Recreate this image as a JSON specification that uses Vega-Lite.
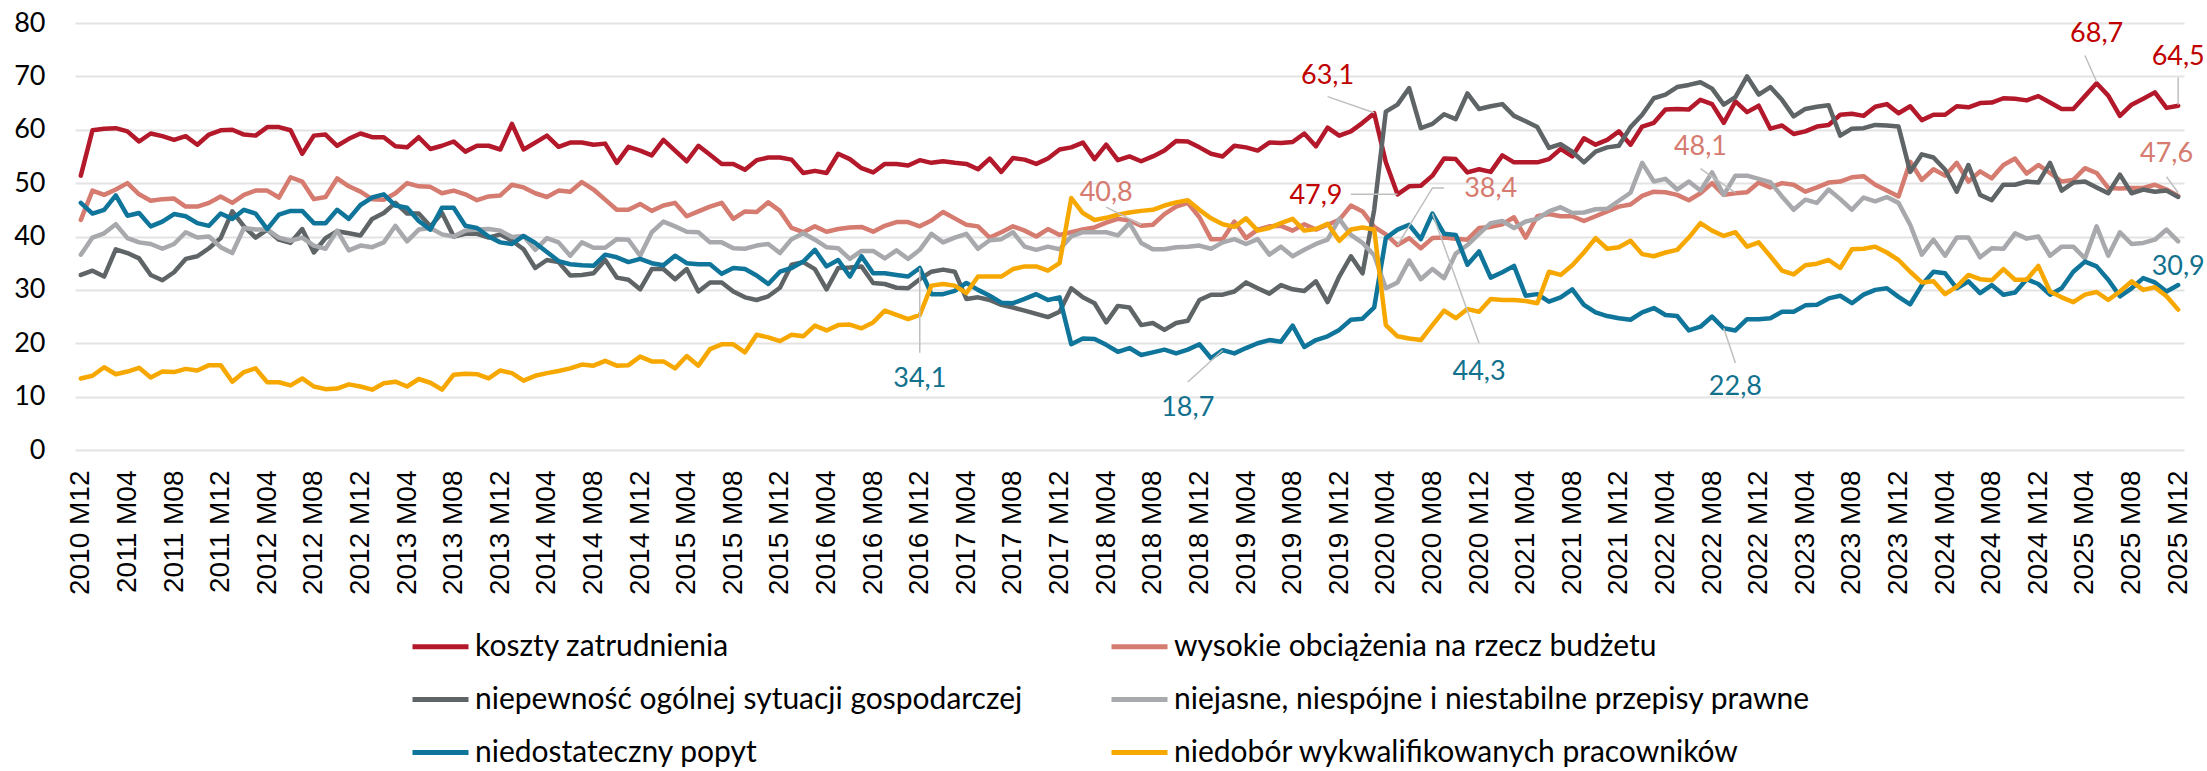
{
"$schema":"https://vega.github.io/schema/vega-lite/v6.json",
"width":2109,"height":427,
"autosize":{"type":"none"},
"padding":{"left":75,"top":23,"right":23,"bottom":321},
"background":"white",
"config":{"view":{"stroke":null},"font":"Lato"},
"datasets":{
"serie":[
{"s":"A","nazwa":"koszty zatrudnienia"},
{"s":"B","nazwa":"wysokie obciążenia na rzecz budżetu"},
{"s":"C","nazwa":"niepewność ogólnej sytuacji gospodarczej"},
{"s":"D","nazwa":"niejasne, niespójne i niestabilne przepisy prawne"},
{"s":"E","nazwa":"niedostateczny popyt"},
{"s":"F","nazwa":"niedobór wykwalifikowanych pracowników"}
],
"dane":[
{"m":"2010 M12","s":"A","v":51.4},
{"m":"2011 M01","s":"A","v":59.9},{"m":"2011 M02","s":"A","v":60.2},{"m":"2011 M03","s":"A","v":60.3},{"m":"2011 M04","s":"A","v":59.7},{"m":"2011 M05","s":"A","v":57.8},{"m":"2011 M06","s":"A","v":59.3},{"m":"2011 M07","s":"A","v":58.8},{"m":"2011 M08","s":"A","v":58.1},{"m":"2011 M09","s":"A","v":58.8},{"m":"2011 M10","s":"A","v":57.2},{"m":"2011 M11","s":"A","v":59.1},{"m":"2011 M12","s":"A","v":59.9},
{"m":"2012 M01","s":"A","v":60},{"m":"2012 M02","s":"A","v":59.1},{"m":"2012 M03","s":"A","v":58.9},{"m":"2012 M04","s":"A","v":60.5},{"m":"2012 M05","s":"A","v":60.5},{"m":"2012 M06","s":"A","v":59.9},{"m":"2012 M07","s":"A","v":55.5},{"m":"2012 M08","s":"A","v":58.9},{"m":"2012 M09","s":"A","v":59.1},{"m":"2012 M10","s":"A","v":57},{"m":"2012 M11","s":"A","v":58.3},{"m":"2012 M12","s":"A","v":59.3},
{"m":"2013 M01","s":"A","v":58.6},{"m":"2013 M02","s":"A","v":58.6},{"m":"2013 M03","s":"A","v":56.9},{"m":"2013 M04","s":"A","v":56.7},{"m":"2013 M05","s":"A","v":58.6},{"m":"2013 M06","s":"A","v":56.4},{"m":"2013 M07","s":"A","v":57},{"m":"2013 M08","s":"A","v":57.8},{"m":"2013 M09","s":"A","v":55.9},{"m":"2013 M10","s":"A","v":57},{"m":"2013 M11","s":"A","v":57},{"m":"2013 M12","s":"A","v":56.3},
{"m":"2014 M01","s":"A","v":61.1},{"m":"2014 M02","s":"A","v":56.3},{"m":"2014 M03","s":"A","v":57.6},{"m":"2014 M04","s":"A","v":58.9},{"m":"2014 M05","s":"A","v":56.8},{"m":"2014 M06","s":"A","v":57.6},{"m":"2014 M07","s":"A","v":57.6},{"m":"2014 M08","s":"A","v":57.2},{"m":"2014 M09","s":"A","v":57.4},{"m":"2014 M10","s":"A","v":53.8},{"m":"2014 M11","s":"A","v":56.8},{"m":"2014 M12","s":"A","v":56.1},
{"m":"2015 M01","s":"A","v":55.2},{"m":"2015 M02","s":"A","v":58.1},{"m":"2015 M03","s":"A","v":56.1},{"m":"2015 M04","s":"A","v":54.1},{"m":"2015 M05","s":"A","v":57},{"m":"2015 M06","s":"A","v":55.3},{"m":"2015 M07","s":"A","v":53.6},{"m":"2015 M08","s":"A","v":53.6},{"m":"2015 M09","s":"A","v":52.5},{"m":"2015 M10","s":"A","v":54.3},{"m":"2015 M11","s":"A","v":54.8},{"m":"2015 M12","s":"A","v":54.8},
{"m":"2016 M01","s":"A","v":54.4},{"m":"2016 M02","s":"A","v":51.9},{"m":"2016 M03","s":"A","v":52.3},{"m":"2016 M04","s":"A","v":51.9},{"m":"2016 M05","s":"A","v":55.5},{"m":"2016 M06","s":"A","v":54.5},{"m":"2016 M07","s":"A","v":52.8},{"m":"2016 M08","s":"A","v":52},{"m":"2016 M09","s":"A","v":53.6},{"m":"2016 M10","s":"A","v":53.6},{"m":"2016 M11","s":"A","v":53.3},{"m":"2016 M12","s":"A","v":54.3},
{"m":"2017 M01","s":"A","v":53.8},{"m":"2017 M02","s":"A","v":54.1},{"m":"2017 M03","s":"A","v":53.8},{"m":"2017 M04","s":"A","v":53.6},{"m":"2017 M05","s":"A","v":52.6},{"m":"2017 M06","s":"A","v":54.6},{"m":"2017 M07","s":"A","v":52.1},{"m":"2017 M08","s":"A","v":54.7},{"m":"2017 M09","s":"A","v":54.4},{"m":"2017 M10","s":"A","v":53.6},{"m":"2017 M11","s":"A","v":54.6},{"m":"2017 M12","s":"A","v":56.3},
{"m":"2018 M01","s":"A","v":56.7},{"m":"2018 M02","s":"A","v":57.6},{"m":"2018 M03","s":"A","v":54.5},{"m":"2018 M04","s":"A","v":57.2},{"m":"2018 M05","s":"A","v":54.3},{"m":"2018 M06","s":"A","v":55},{"m":"2018 M07","s":"A","v":54.1},{"m":"2018 M08","s":"A","v":55},{"m":"2018 M09","s":"A","v":56.1},{"m":"2018 M10","s":"A","v":57.9},{"m":"2018 M11","s":"A","v":57.8},{"m":"2018 M12","s":"A","v":56.7},
{"m":"2019 M01","s":"A","v":55.5},{"m":"2019 M02","s":"A","v":55},{"m":"2019 M03","s":"A","v":57},{"m":"2019 M04","s":"A","v":56.7},{"m":"2019 M05","s":"A","v":56.1},{"m":"2019 M06","s":"A","v":57.6},{"m":"2019 M07","s":"A","v":57.5},{"m":"2019 M08","s":"A","v":57.7},{"m":"2019 M09","s":"A","v":59.3},{"m":"2019 M10","s":"A","v":56.9},{"m":"2019 M11","s":"A","v":60.4},{"m":"2019 M12","s":"A","v":58.9},
{"m":"2020 M01","s":"A","v":59.7},{"m":"2020 M02","s":"A","v":61.3},{"m":"2020 M03","s":"A","v":63.1},{"m":"2020 M04","s":"A","v":53.9},{"m":"2020 M05","s":"A","v":47.9},{"m":"2020 M06","s":"A","v":49.4},{"m":"2020 M07","s":"A","v":49.5},{"m":"2020 M08","s":"A","v":51.4},{"m":"2020 M09","s":"A","v":54.6},{"m":"2020 M10","s":"A","v":54.5},{"m":"2020 M11","s":"A","v":52},{"m":"2020 M12","s":"A","v":52.6},
{"m":"2021 M01","s":"A","v":52.1},{"m":"2021 M02","s":"A","v":55.2},{"m":"2021 M03","s":"A","v":53.9},{"m":"2021 M04","s":"A","v":53.9},{"m":"2021 M05","s":"A","v":53.9},{"m":"2021 M06","s":"A","v":54.5},{"m":"2021 M07","s":"A","v":56.4},{"m":"2021 M08","s":"A","v":55},{"m":"2021 M09","s":"A","v":58.4},{"m":"2021 M10","s":"A","v":57.2},{"m":"2021 M11","s":"A","v":58.1},{"m":"2021 M12","s":"A","v":59.7},
{"m":"2022 M01","s":"A","v":57.2},{"m":"2022 M02","s":"A","v":60.6},{"m":"2022 M03","s":"A","v":61.3},{"m":"2022 M04","s":"A","v":63.8},{"m":"2022 M05","s":"A","v":63.9},{"m":"2022 M06","s":"A","v":63.8},{"m":"2022 M07","s":"A","v":65.6},{"m":"2022 M08","s":"A","v":64.8},{"m":"2022 M09","s":"A","v":61.3},{"m":"2022 M10","s":"A","v":65.3},{"m":"2022 M11","s":"A","v":63.3},{"m":"2022 M12","s":"A","v":64.5},
{"m":"2023 M01","s":"A","v":60.2},{"m":"2023 M02","s":"A","v":60.8},{"m":"2023 M03","s":"A","v":59.2},{"m":"2023 M04","s":"A","v":59.7},{"m":"2023 M05","s":"A","v":60.6},{"m":"2023 M06","s":"A","v":60.9},{"m":"2023 M07","s":"A","v":62.8},{"m":"2023 M08","s":"A","v":63},{"m":"2023 M09","s":"A","v":62.6},{"m":"2023 M10","s":"A","v":64.3},{"m":"2023 M11","s":"A","v":64.8},{"m":"2023 M12","s":"A","v":63.1},
{"m":"2024 M01","s":"A","v":64.4},{"m":"2024 M02","s":"A","v":61.8},{"m":"2024 M03","s":"A","v":62.8},{"m":"2024 M04","s":"A","v":62.8},{"m":"2024 M05","s":"A","v":64.4},{"m":"2024 M06","s":"A","v":64.2},{"m":"2024 M07","s":"A","v":65},{"m":"2024 M08","s":"A","v":65.1},{"m":"2024 M09","s":"A","v":65.9},{"m":"2024 M10","s":"A","v":65.8},{"m":"2024 M11","s":"A","v":65.5},{"m":"2024 M12","s":"A","v":66.3},
{"m":"2025 M01","s":"A","v":65.1},{"m":"2025 M02","s":"A","v":63.9},{"m":"2025 M03","s":"A","v":63.9},{"m":"2025 M04","s":"A","v":66.3},{"m":"2025 M05","s":"A","v":68.7},{"m":"2025 M06","s":"A","v":66.4},{"m":"2025 M07","s":"A","v":62.6},{"m":"2025 M08","s":"A","v":64.7},{"m":"2025 M09","s":"A","v":65.8},{"m":"2025 M10","s":"A","v":67},{"m":"2025 M11","s":"A","v":64.1},{"m":"2025 M12","s":"A","v":64.5},
{"m":"2010 M12","s":"B","v":43.1},
{"m":"2011 M01","s":"B","v":48.6},{"m":"2011 M02","s":"B","v":47.8},{"m":"2011 M03","s":"B","v":48.8},{"m":"2011 M04","s":"B","v":50},{"m":"2011 M05","s":"B","v":47.9},{"m":"2011 M06","s":"B","v":46.7},{"m":"2011 M07","s":"B","v":47},{"m":"2011 M08","s":"B","v":47.1},{"m":"2011 M09","s":"B","v":45.6},{"m":"2011 M10","s":"B","v":45.6},{"m":"2011 M11","s":"B","v":46.3},{"m":"2011 M12","s":"B","v":47.5},
{"m":"2012 M01","s":"B","v":46.3},{"m":"2012 M02","s":"B","v":47.8},{"m":"2012 M03","s":"B","v":48.6},{"m":"2012 M04","s":"B","v":48.6},{"m":"2012 M05","s":"B","v":47.3},{"m":"2012 M06","s":"B","v":51.1},{"m":"2012 M07","s":"B","v":50.3},{"m":"2012 M08","s":"B","v":47},{"m":"2012 M09","s":"B","v":47.4},{"m":"2012 M10","s":"B","v":50.9},{"m":"2012 M11","s":"B","v":49.4},{"m":"2012 M12","s":"B","v":48.4},
{"m":"2013 M01","s":"B","v":47},{"m":"2013 M02","s":"B","v":46.9},{"m":"2013 M03","s":"B","v":48.1},{"m":"2013 M04","s":"B","v":50},{"m":"2013 M05","s":"B","v":49.4},{"m":"2013 M06","s":"B","v":49.3},{"m":"2013 M07","s":"B","v":48.1},{"m":"2013 M08","s":"B","v":48.6},{"m":"2013 M09","s":"B","v":47.9},{"m":"2013 M10","s":"B","v":46.8},{"m":"2013 M11","s":"B","v":47.5},{"m":"2013 M12","s":"B","v":47.7},
{"m":"2014 M01","s":"B","v":49.7},{"m":"2014 M02","s":"B","v":49.2},{"m":"2014 M03","s":"B","v":48.1},{"m":"2014 M04","s":"B","v":47.4},{"m":"2014 M05","s":"B","v":48.6},{"m":"2014 M06","s":"B","v":48.4},{"m":"2014 M07","s":"B","v":50.2},{"m":"2014 M08","s":"B","v":48.8},{"m":"2014 M09","s":"B","v":46.9},{"m":"2014 M10","s":"B","v":45},{"m":"2014 M11","s":"B","v":45},{"m":"2014 M12","s":"B","v":46.1},
{"m":"2015 M01","s":"B","v":44.8},{"m":"2015 M02","s":"B","v":45.8},{"m":"2015 M03","s":"B","v":46.3},{"m":"2015 M04","s":"B","v":43.8},{"m":"2015 M05","s":"B","v":44.7},{"m":"2015 M06","s":"B","v":45.6},{"m":"2015 M07","s":"B","v":46.3},{"m":"2015 M08","s":"B","v":43.3},{"m":"2015 M09","s":"B","v":44.7},{"m":"2015 M10","s":"B","v":44.6},{"m":"2015 M11","s":"B","v":46.4},{"m":"2015 M12","s":"B","v":44.8},
{"m":"2016 M01","s":"B","v":41.6},{"m":"2016 M02","s":"B","v":40.8},{"m":"2016 M03","s":"B","v":41.9},{"m":"2016 M04","s":"B","v":40.9},{"m":"2016 M05","s":"B","v":41.4},{"m":"2016 M06","s":"B","v":41.7},{"m":"2016 M07","s":"B","v":41.8},{"m":"2016 M08","s":"B","v":40.9},{"m":"2016 M09","s":"B","v":42},{"m":"2016 M10","s":"B","v":42.7},{"m":"2016 M11","s":"B","v":42.7},{"m":"2016 M12","s":"B","v":41.9},
{"m":"2017 M01","s":"B","v":43},{"m":"2017 M02","s":"B","v":44.6},{"m":"2017 M03","s":"B","v":43.4},{"m":"2017 M04","s":"B","v":42.2},{"m":"2017 M05","s":"B","v":41.9},{"m":"2017 M06","s":"B","v":39.8},{"m":"2017 M07","s":"B","v":40.8},{"m":"2017 M08","s":"B","v":41.9},{"m":"2017 M09","s":"B","v":41.1},{"m":"2017 M10","s":"B","v":40},{"m":"2017 M11","s":"B","v":41.4},{"m":"2017 M12","s":"B","v":40.3},
{"m":"2018 M01","s":"B","v":40.8},{"m":"2018 M02","s":"B","v":41.3},{"m":"2018 M03","s":"B","v":41.7},{"m":"2018 M04","s":"B","v":42.6},{"m":"2018 M05","s":"B","v":43.3},{"m":"2018 M06","s":"B","v":43},{"m":"2018 M07","s":"B","v":42},{"m":"2018 M08","s":"B","v":42.2},{"m":"2018 M09","s":"B","v":44.2},{"m":"2018 M10","s":"B","v":45.6},{"m":"2018 M11","s":"B","v":46.3},{"m":"2018 M12","s":"B","v":43.6},
{"m":"2019 M01","s":"B","v":39.5},{"m":"2019 M02","s":"B","v":39.5},{"m":"2019 M03","s":"B","v":42.8},{"m":"2019 M04","s":"B","v":39.7},{"m":"2019 M05","s":"B","v":41.3},{"m":"2019 M06","s":"B","v":41.9},{"m":"2019 M07","s":"B","v":42},{"m":"2019 M08","s":"B","v":41.1},{"m":"2019 M09","s":"B","v":42.3},{"m":"2019 M10","s":"B","v":41.3},{"m":"2019 M11","s":"B","v":42.2},{"m":"2019 M12","s":"B","v":43.1},
{"m":"2020 M01","s":"B","v":45.8},{"m":"2020 M02","s":"B","v":44.7},{"m":"2020 M03","s":"B","v":41.8},{"m":"2020 M04","s":"B","v":40.4},{"m":"2020 M05","s":"B","v":38.4},{"m":"2020 M06","s":"B","v":39.7},{"m":"2020 M07","s":"B","v":37.8},{"m":"2020 M08","s":"B","v":39.7},{"m":"2020 M09","s":"B","v":39.8},{"m":"2020 M10","s":"B","v":39.6},{"m":"2020 M11","s":"B","v":39.4},{"m":"2020 M12","s":"B","v":41.6},
{"m":"2021 M01","s":"B","v":41.8},{"m":"2021 M02","s":"B","v":42.3},{"m":"2021 M03","s":"B","v":43.6},{"m":"2021 M04","s":"B","v":39.8},{"m":"2021 M05","s":"B","v":43.8},{"m":"2021 M06","s":"B","v":44.2},{"m":"2021 M07","s":"B","v":43.8},{"m":"2021 M08","s":"B","v":43.8},{"m":"2021 M09","s":"B","v":42.9},{"m":"2021 M10","s":"B","v":43.8},{"m":"2021 M11","s":"B","v":44.7},{"m":"2021 M12","s":"B","v":45.6},
{"m":"2022 M01","s":"B","v":46},{"m":"2022 M02","s":"B","v":47.6},{"m":"2022 M03","s":"B","v":48.4},{"m":"2022 M04","s":"B","v":48.3},{"m":"2022 M05","s":"B","v":47.8},{"m":"2022 M06","s":"B","v":46.8},{"m":"2022 M07","s":"B","v":48.1},{"m":"2022 M08","s":"B","v":50},{"m":"2022 M09","s":"B","v":47.8},{"m":"2022 M10","s":"B","v":48.1},{"m":"2022 M11","s":"B","v":48.3},{"m":"2022 M12","s":"B","v":50.1},
{"m":"2023 M01","s":"B","v":49.2},{"m":"2023 M02","s":"B","v":50},{"m":"2023 M03","s":"B","v":49.7},{"m":"2023 M04","s":"B","v":48.4},{"m":"2023 M05","s":"B","v":49.2},{"m":"2023 M06","s":"B","v":50.1},{"m":"2023 M07","s":"B","v":50.3},{"m":"2023 M08","s":"B","v":51.1},{"m":"2023 M09","s":"B","v":51.3},{"m":"2023 M10","s":"B","v":49.7},{"m":"2023 M11","s":"B","v":48.6},{"m":"2023 M12","s":"B","v":47.5},
{"m":"2024 M01","s":"B","v":54},{"m":"2024 M02","s":"B","v":50.6},{"m":"2024 M03","s":"B","v":52.6},{"m":"2024 M04","s":"B","v":51.4},{"m":"2024 M05","s":"B","v":53.8},{"m":"2024 M06","s":"B","v":50.3},{"m":"2024 M07","s":"B","v":52.2},{"m":"2024 M08","s":"B","v":50.9},{"m":"2024 M09","s":"B","v":53.4},{"m":"2024 M10","s":"B","v":54.6},{"m":"2024 M11","s":"B","v":51.8},{"m":"2024 M12","s":"B","v":53.4},
{"m":"2025 M01","s":"B","v":51.9},{"m":"2025 M02","s":"B","v":50.3},{"m":"2025 M03","s":"B","v":50.6},{"m":"2025 M04","s":"B","v":52.8},{"m":"2025 M05","s":"B","v":51.9},{"m":"2025 M06","s":"B","v":49.1},{"m":"2025 M07","s":"B","v":49},{"m":"2025 M08","s":"B","v":49.1},{"m":"2025 M09","s":"B","v":49.1},{"m":"2025 M10","s":"B","v":49.7},{"m":"2025 M11","s":"B","v":48.8},{"m":"2025 M12","s":"B","v":47.6},
{"m":"2010 M12","s":"C","v":32.8},
{"m":"2011 M01","s":"C","v":33.6},{"m":"2011 M02","s":"C","v":32.5},{"m":"2011 M03","s":"C","v":37.6},{"m":"2011 M04","s":"C","v":36.9},{"m":"2011 M05","s":"C","v":35.9},{"m":"2011 M06","s":"C","v":32.8},{"m":"2011 M07","s":"C","v":31.8},{"m":"2011 M08","s":"C","v":33.3},{"m":"2011 M09","s":"C","v":35.8},{"m":"2011 M10","s":"C","v":36.3},{"m":"2011 M11","s":"C","v":37.8},{"m":"2011 M12","s":"C","v":39.7},
{"m":"2012 M01","s":"C","v":44.7},{"m":"2012 M02","s":"C","v":41.9},{"m":"2012 M03","s":"C","v":39.8},{"m":"2012 M04","s":"C","v":41.3},{"m":"2012 M05","s":"C","v":39.4},{"m":"2012 M06","s":"C","v":38.8},{"m":"2012 M07","s":"C","v":41.4},{"m":"2012 M08","s":"C","v":37},{"m":"2012 M09","s":"C","v":39.7},{"m":"2012 M10","s":"C","v":41},{"m":"2012 M11","s":"C","v":40.6},{"m":"2012 M12","s":"C","v":40.2},
{"m":"2013 M01","s":"C","v":43.3},{"m":"2013 M02","s":"C","v":44.4},{"m":"2013 M03","s":"C","v":46.3},{"m":"2013 M04","s":"C","v":44.3},{"m":"2013 M05","s":"C","v":44.3},{"m":"2013 M06","s":"C","v":41.9},{"m":"2013 M07","s":"C","v":44.4},{"m":"2013 M08","s":"C","v":40},{"m":"2013 M09","s":"C","v":40.5},{"m":"2013 M10","s":"C","v":40.5},{"m":"2013 M11","s":"C","v":39.8},{"m":"2013 M12","s":"C","v":40.4},
{"m":"2014 M01","s":"C","v":39.2},{"m":"2014 M02","s":"C","v":37.6},{"m":"2014 M03","s":"C","v":34.1},{"m":"2014 M04","s":"C","v":35.6},{"m":"2014 M05","s":"C","v":35.2},{"m":"2014 M06","s":"C","v":32.7},{"m":"2014 M07","s":"C","v":32.8},{"m":"2014 M08","s":"C","v":33.1},{"m":"2014 M09","s":"C","v":35.6},{"m":"2014 M10","s":"C","v":32.3},{"m":"2014 M11","s":"C","v":31.9},{"m":"2014 M12","s":"C","v":30.1},
{"m":"2015 M01","s":"C","v":33.9},{"m":"2015 M02","s":"C","v":33.9},{"m":"2015 M03","s":"C","v":32},{"m":"2015 M04","s":"C","v":33.9},{"m":"2015 M05","s":"C","v":29.7},{"m":"2015 M06","s":"C","v":31.4},{"m":"2015 M07","s":"C","v":31.4},{"m":"2015 M08","s":"C","v":29.7},{"m":"2015 M09","s":"C","v":28.6},{"m":"2015 M10","s":"C","v":28.1},{"m":"2015 M11","s":"C","v":28.8},{"m":"2015 M12","s":"C","v":30.4},
{"m":"2016 M01","s":"C","v":34.7},{"m":"2016 M02","s":"C","v":35.2},{"m":"2016 M03","s":"C","v":33.9},{"m":"2016 M04","s":"C","v":30.1},{"m":"2016 M05","s":"C","v":34.1},{"m":"2016 M06","s":"C","v":34.2},{"m":"2016 M07","s":"C","v":34.4},{"m":"2016 M08","s":"C","v":31.3},{"m":"2016 M09","s":"C","v":31.1},{"m":"2016 M10","s":"C","v":30.4},{"m":"2016 M11","s":"C","v":30.3},{"m":"2016 M12","s":"C","v":32},
{"m":"2017 M01","s":"C","v":33.4},{"m":"2017 M02","s":"C","v":33.8},{"m":"2017 M03","s":"C","v":33.4},{"m":"2017 M04","s":"C","v":28.3},{"m":"2017 M05","s":"C","v":28.6},{"m":"2017 M06","s":"C","v":28.1},{"m":"2017 M07","s":"C","v":27.2},{"m":"2017 M08","s":"C","v":26.7},{"m":"2017 M09","s":"C","v":26.1},{"m":"2017 M10","s":"C","v":25.5},{"m":"2017 M11","s":"C","v":24.9},{"m":"2017 M12","s":"C","v":25.9},
{"m":"2018 M01","s":"C","v":30.3},{"m":"2018 M02","s":"C","v":28.6},{"m":"2018 M03","s":"C","v":27.5},{"m":"2018 M04","s":"C","v":23.9},{"m":"2018 M05","s":"C","v":27},{"m":"2018 M06","s":"C","v":26.7},{"m":"2018 M07","s":"C","v":23.4},{"m":"2018 M08","s":"C","v":23.8},{"m":"2018 M09","s":"C","v":22.5},{"m":"2018 M10","s":"C","v":23.8},{"m":"2018 M11","s":"C","v":24.2},{"m":"2018 M12","s":"C","v":28.1},
{"m":"2019 M01","s":"C","v":29.1},{"m":"2019 M02","s":"C","v":29.1},{"m":"2019 M03","s":"C","v":29.7},{"m":"2019 M04","s":"C","v":31.4},{"m":"2019 M05","s":"C","v":30.3},{"m":"2019 M06","s":"C","v":29.3},{"m":"2019 M07","s":"C","v":30.9},{"m":"2019 M08","s":"C","v":30.1},{"m":"2019 M09","s":"C","v":29.8},{"m":"2019 M10","s":"C","v":31.6},{"m":"2019 M11","s":"C","v":27.7},{"m":"2019 M12","s":"C","v":32.5},
{"m":"2020 M01","s":"C","v":36.3},{"m":"2020 M02","s":"C","v":33.1},{"m":"2020 M03","s":"C","v":45},{"m":"2020 M04","s":"C","v":63.4},{"m":"2020 M05","s":"C","v":64.7},{"m":"2020 M06","s":"C","v":67.8},{"m":"2020 M07","s":"C","v":60.3},{"m":"2020 M08","s":"C","v":61.1},{"m":"2020 M09","s":"C","v":62.9},{"m":"2020 M10","s":"C","v":62},{"m":"2020 M11","s":"C","v":66.8},{"m":"2020 M12","s":"C","v":63.9},
{"m":"2021 M01","s":"C","v":64.4},{"m":"2021 M02","s":"C","v":64.8},{"m":"2021 M03","s":"C","v":62.6},{"m":"2021 M04","s":"C","v":61.6},{"m":"2021 M05","s":"C","v":60.5},{"m":"2021 M06","s":"C","v":56.6},{"m":"2021 M07","s":"C","v":57.3},{"m":"2021 M08","s":"C","v":55.9},{"m":"2021 M09","s":"C","v":53.9},{"m":"2021 M10","s":"C","v":55.9},{"m":"2021 M11","s":"C","v":56.7},{"m":"2021 M12","s":"C","v":57},
{"m":"2022 M01","s":"C","v":60.5},{"m":"2022 M02","s":"C","v":62.8},{"m":"2022 M03","s":"C","v":65.9},{"m":"2022 M04","s":"C","v":66.6},{"m":"2022 M05","s":"C","v":68},{"m":"2022 M06","s":"C","v":68.4},{"m":"2022 M07","s":"C","v":68.9},{"m":"2022 M08","s":"C","v":67.7},{"m":"2022 M09","s":"C","v":64.7},{"m":"2022 M10","s":"C","v":66.1},{"m":"2022 M11","s":"C","v":70},{"m":"2022 M12","s":"C","v":66.6},
{"m":"2023 M01","s":"C","v":68},{"m":"2023 M02","s":"C","v":65.6},{"m":"2023 M03","s":"C","v":62.5},{"m":"2023 M04","s":"C","v":63.9},{"m":"2023 M05","s":"C","v":64.3},{"m":"2023 M06","s":"C","v":64.6},{"m":"2023 M07","s":"C","v":58.9},{"m":"2023 M08","s":"C","v":60.2},{"m":"2023 M09","s":"C","v":60.3},{"m":"2023 M10","s":"C","v":60.9},{"m":"2023 M11","s":"C","v":60.8},{"m":"2023 M12","s":"C","v":60.6},
{"m":"2024 M01","s":"C","v":52.1},{"m":"2024 M02","s":"C","v":55.4},{"m":"2024 M03","s":"C","v":54.8},{"m":"2024 M04","s":"C","v":52.5},{"m":"2024 M05","s":"C","v":48.4},{"m":"2024 M06","s":"C","v":53.4},{"m":"2024 M07","s":"C","v":47.8},{"m":"2024 M08","s":"C","v":46.8},{"m":"2024 M09","s":"C","v":49.7},{"m":"2024 M10","s":"C","v":49.7},{"m":"2024 M11","s":"C","v":50.3},{"m":"2024 M12","s":"C","v":50.1},
{"m":"2025 M01","s":"C","v":53.8},{"m":"2025 M02","s":"C","v":48.6},{"m":"2025 M03","s":"C","v":50.1},{"m":"2025 M04","s":"C","v":50.3},{"m":"2025 M05","s":"C","v":49.2},{"m":"2025 M06","s":"C","v":48.1},{"m":"2025 M07","s":"C","v":51.6},{"m":"2025 M08","s":"C","v":48.1},{"m":"2025 M09","s":"C","v":48.8},{"m":"2025 M10","s":"C","v":48.4},{"m":"2025 M11","s":"C","v":48.6},{"m":"2025 M12","s":"C","v":47.4},
{"m":"2010 M12","s":"D","v":36.6},
{"m":"2011 M01","s":"D","v":39.8},{"m":"2011 M02","s":"D","v":40.6},{"m":"2011 M03","s":"D","v":42.3},{"m":"2011 M04","s":"D","v":39.7},{"m":"2011 M05","s":"D","v":38.9},{"m":"2011 M06","s":"D","v":38.6},{"m":"2011 M07","s":"D","v":37.7},{"m":"2011 M08","s":"D","v":38.6},{"m":"2011 M09","s":"D","v":40.8},{"m":"2011 M10","s":"D","v":39.8},{"m":"2011 M11","s":"D","v":40},{"m":"2011 M12","s":"D","v":38},
{"m":"2012 M01","s":"D","v":36.9},{"m":"2012 M02","s":"D","v":41.6},{"m":"2012 M03","s":"D","v":41.3},{"m":"2012 M04","s":"D","v":41.3},{"m":"2012 M05","s":"D","v":39.8},{"m":"2012 M06","s":"D","v":39.2},{"m":"2012 M07","s":"D","v":39.8},{"m":"2012 M08","s":"D","v":38.3},{"m":"2012 M09","s":"D","v":37.7},{"m":"2012 M10","s":"D","v":41.1},{"m":"2012 M11","s":"D","v":37.4},{"m":"2012 M12","s":"D","v":38.3},
{"m":"2013 M01","s":"D","v":38},{"m":"2013 M02","s":"D","v":38.9},{"m":"2013 M03","s":"D","v":42},{"m":"2013 M04","s":"D","v":39.1},{"m":"2013 M05","s":"D","v":41.3},{"m":"2013 M06","s":"D","v":41.6},{"m":"2013 M07","s":"D","v":40.4},{"m":"2013 M08","s":"D","v":40},{"m":"2013 M09","s":"D","v":41.1},{"m":"2013 M10","s":"D","v":41.3},{"m":"2013 M11","s":"D","v":41.4},{"m":"2013 M12","s":"D","v":41.1},
{"m":"2014 M01","s":"D","v":39.9},{"m":"2014 M02","s":"D","v":40.1},{"m":"2014 M03","s":"D","v":37.5},{"m":"2014 M04","s":"D","v":39.7},{"m":"2014 M05","s":"D","v":38.9},{"m":"2014 M06","s":"D","v":36.4},{"m":"2014 M07","s":"D","v":38.9},{"m":"2014 M08","s":"D","v":37.9},{"m":"2014 M09","s":"D","v":37.9},{"m":"2014 M10","s":"D","v":39.5},{"m":"2014 M11","s":"D","v":39.4},{"m":"2014 M12","s":"D","v":36.4},
{"m":"2015 M01","s":"D","v":40.8},{"m":"2015 M02","s":"D","v":42.8},{"m":"2015 M03","s":"D","v":41.9},{"m":"2015 M04","s":"D","v":40.9},{"m":"2015 M05","s":"D","v":40.8},{"m":"2015 M06","s":"D","v":38.9},{"m":"2015 M07","s":"D","v":38.9},{"m":"2015 M08","s":"D","v":37.8},{"m":"2015 M09","s":"D","v":37.7},{"m":"2015 M10","s":"D","v":38.3},{"m":"2015 M11","s":"D","v":38.6},{"m":"2015 M12","s":"D","v":36.9},
{"m":"2016 M01","s":"D","v":39.5},{"m":"2016 M02","s":"D","v":40.6},{"m":"2016 M03","s":"D","v":39.4},{"m":"2016 M04","s":"D","v":38},{"m":"2016 M05","s":"D","v":37.8},{"m":"2016 M06","s":"D","v":35.8},{"m":"2016 M07","s":"D","v":37.3},{"m":"2016 M08","s":"D","v":37.3},{"m":"2016 M09","s":"D","v":35.9},{"m":"2016 M10","s":"D","v":37.4},{"m":"2016 M11","s":"D","v":35.8},{"m":"2016 M12","s":"D","v":37.5},
{"m":"2017 M01","s":"D","v":40.5},{"m":"2017 M02","s":"D","v":38.9},{"m":"2017 M03","s":"D","v":39.8},{"m":"2017 M04","s":"D","v":40.5},{"m":"2017 M05","s":"D","v":37.7},{"m":"2017 M06","s":"D","v":39.3},{"m":"2017 M07","s":"D","v":39.5},{"m":"2017 M08","s":"D","v":40.8},{"m":"2017 M09","s":"D","v":38.1},{"m":"2017 M10","s":"D","v":37.5},{"m":"2017 M11","s":"D","v":38.1},{"m":"2017 M12","s":"D","v":37.6},
{"m":"2018 M01","s":"D","v":40},{"m":"2018 M02","s":"D","v":40.8},{"m":"2018 M03","s":"D","v":40.8},{"m":"2018 M04","s":"D","v":40.8},{"m":"2018 M05","s":"D","v":40.2},{"m":"2018 M06","s":"D","v":42.5},{"m":"2018 M07","s":"D","v":38.8},{"m":"2018 M08","s":"D","v":37.6},{"m":"2018 M09","s":"D","v":37.6},{"m":"2018 M10","s":"D","v":38},{"m":"2018 M11","s":"D","v":38.1},{"m":"2018 M12","s":"D","v":38.3},
{"m":"2019 M01","s":"D","v":37.7},{"m":"2019 M02","s":"D","v":38.9},{"m":"2019 M03","s":"D","v":39.5},{"m":"2019 M04","s":"D","v":38.6},{"m":"2019 M05","s":"D","v":39.5},{"m":"2019 M06","s":"D","v":36.6},{"m":"2019 M07","s":"D","v":38.1},{"m":"2019 M08","s":"D","v":36.3},{"m":"2019 M09","s":"D","v":37.5},{"m":"2019 M10","s":"D","v":38.6},{"m":"2019 M11","s":"D","v":39.4},{"m":"2019 M12","s":"D","v":43.3},
{"m":"2020 M01","s":"D","v":40.3},{"m":"2020 M02","s":"D","v":38.8},{"m":"2020 M03","s":"D","v":36.5},{"m":"2020 M04","s":"D","v":30.3},{"m":"2020 M05","s":"D","v":31.4},{"m":"2020 M06","s":"D","v":35.5},{"m":"2020 M07","s":"D","v":32},{"m":"2020 M08","s":"D","v":33.9},{"m":"2020 M09","s":"D","v":32.2},{"m":"2020 M10","s":"D","v":36.8},{"m":"2020 M11","s":"D","v":38.4},{"m":"2020 M12","s":"D","v":40.5},
{"m":"2021 M01","s":"D","v":42.5},{"m":"2021 M02","s":"D","v":42.9},{"m":"2021 M03","s":"D","v":41.6},{"m":"2021 M04","s":"D","v":42.8},{"m":"2021 M05","s":"D","v":43.3},{"m":"2021 M06","s":"D","v":44.7},{"m":"2021 M07","s":"D","v":45.5},{"m":"2021 M08","s":"D","v":44.4},{"m":"2021 M09","s":"D","v":44.5},{"m":"2021 M10","s":"D","v":45.1},{"m":"2021 M11","s":"D","v":45.2},{"m":"2021 M12","s":"D","v":46.7},
{"m":"2022 M01","s":"D","v":48.2},{"m":"2022 M02","s":"D","v":53.8},{"m":"2022 M03","s":"D","v":50.3},{"m":"2022 M04","s":"D","v":50.8},{"m":"2022 M05","s":"D","v":48.8},{"m":"2022 M06","s":"D","v":50.3},{"m":"2022 M07","s":"D","v":48.6},{"m":"2022 M08","s":"D","v":52},{"m":"2022 M09","s":"D","v":47.8},{"m":"2022 M10","s":"D","v":51.4},{"m":"2022 M11","s":"D","v":51.4},{"m":"2022 M12","s":"D","v":50.8},
{"m":"2023 M01","s":"D","v":50.2},{"m":"2023 M02","s":"D","v":47.5},{"m":"2023 M03","s":"D","v":45},{"m":"2023 M04","s":"D","v":46.9},{"m":"2023 M05","s":"D","v":46.3},{"m":"2023 M06","s":"D","v":48.8},{"m":"2023 M07","s":"D","v":47},{"m":"2023 M08","s":"D","v":45},{"m":"2023 M09","s":"D","v":47.3},{"m":"2023 M10","s":"D","v":46.6},{"m":"2023 M11","s":"D","v":47.4},{"m":"2023 M12","s":"D","v":46.3},
{"m":"2024 M01","s":"D","v":42.2},{"m":"2024 M02","s":"D","v":36.6},{"m":"2024 M03","s":"D","v":39.4},{"m":"2024 M04","s":"D","v":36.4},{"m":"2024 M05","s":"D","v":39.8},{"m":"2024 M06","s":"D","v":39.8},{"m":"2024 M07","s":"D","v":36.1},{"m":"2024 M08","s":"D","v":37.8},{"m":"2024 M09","s":"D","v":37.7},{"m":"2024 M10","s":"D","v":40.6},{"m":"2024 M11","s":"D","v":39.6},{"m":"2024 M12","s":"D","v":40},
{"m":"2025 M01","s":"D","v":36.4},{"m":"2025 M02","s":"D","v":38.1},{"m":"2025 M03","s":"D","v":38.1},{"m":"2025 M04","s":"D","v":35.9},{"m":"2025 M05","s":"D","v":41.9},{"m":"2025 M06","s":"D","v":36.4},{"m":"2025 M07","s":"D","v":40.8},{"m":"2025 M08","s":"D","v":38.6},{"m":"2025 M09","s":"D","v":38.8},{"m":"2025 M10","s":"D","v":39.4},{"m":"2025 M11","s":"D","v":41.3},{"m":"2025 M12","s":"D","v":39.1},
{"m":"2010 M12","s":"E","v":46.3},
{"m":"2011 M01","s":"E","v":44.3},{"m":"2011 M02","s":"E","v":45},{"m":"2011 M03","s":"E","v":47.7},{"m":"2011 M04","s":"E","v":43.9},{"m":"2011 M05","s":"E","v":44.4},{"m":"2011 M06","s":"E","v":41.9},{"m":"2011 M07","s":"E","v":42.8},{"m":"2011 M08","s":"E","v":44.2},{"m":"2011 M09","s":"E","v":43.8},{"m":"2011 M10","s":"E","v":42.5},{"m":"2011 M11","s":"E","v":42},{"m":"2011 M12","s":"E","v":44.3},
{"m":"2012 M01","s":"E","v":43.3},{"m":"2012 M02","s":"E","v":45},{"m":"2012 M03","s":"E","v":44.3},{"m":"2012 M04","s":"E","v":41.4},{"m":"2012 M05","s":"E","v":44.1},{"m":"2012 M06","s":"E","v":44.8},{"m":"2012 M07","s":"E","v":44.8},{"m":"2012 M08","s":"E","v":42.5},{"m":"2012 M09","s":"E","v":42.5},{"m":"2012 M10","s":"E","v":45},{"m":"2012 M11","s":"E","v":43.3},{"m":"2012 M12","s":"E","v":45.9},
{"m":"2013 M01","s":"E","v":47.3},{"m":"2013 M02","s":"E","v":47.9},{"m":"2013 M03","s":"E","v":45.8},{"m":"2013 M04","s":"E","v":45.4},{"m":"2013 M05","s":"E","v":42.9},{"m":"2013 M06","s":"E","v":41.3},{"m":"2013 M07","s":"E","v":45.4},{"m":"2013 M08","s":"E","v":45.4},{"m":"2013 M09","s":"E","v":42},{"m":"2013 M10","s":"E","v":41.6},{"m":"2013 M11","s":"E","v":40},{"m":"2013 M12","s":"E","v":38.9},
{"m":"2014 M01","s":"E","v":38.6},{"m":"2014 M02","s":"E","v":40.1},{"m":"2014 M03","s":"E","v":38.8},{"m":"2014 M04","s":"E","v":37.1},{"m":"2014 M05","s":"E","v":35.4},{"m":"2014 M06","s":"E","v":34.8},{"m":"2014 M07","s":"E","v":34.6},{"m":"2014 M08","s":"E","v":34.5},{"m":"2014 M09","s":"E","v":36.6},{"m":"2014 M10","s":"E","v":36.1},{"m":"2014 M11","s":"E","v":35.2},{"m":"2014 M12","s":"E","v":35.8},
{"m":"2015 M01","s":"E","v":35},{"m":"2015 M02","s":"E","v":34.6},{"m":"2015 M03","s":"E","v":36.4},{"m":"2015 M04","s":"E","v":35},{"m":"2015 M05","s":"E","v":34.8},{"m":"2015 M06","s":"E","v":34.8},{"m":"2015 M07","s":"E","v":33},{"m":"2015 M08","s":"E","v":34.1},{"m":"2015 M09","s":"E","v":33.9},{"m":"2015 M10","s":"E","v":32.7},{"m":"2015 M11","s":"E","v":31.1},{"m":"2015 M12","s":"E","v":33.4},
{"m":"2016 M01","s":"E","v":34.1},{"m":"2016 M02","s":"E","v":35.3},{"m":"2016 M03","s":"E","v":37.5},{"m":"2016 M04","s":"E","v":34.4},{"m":"2016 M05","s":"E","v":35.6},{"m":"2016 M06","s":"E","v":32.5},{"m":"2016 M07","s":"E","v":36.3},{"m":"2016 M08","s":"E","v":33.1},{"m":"2016 M09","s":"E","v":33.1},{"m":"2016 M10","s":"E","v":32.8},{"m":"2016 M11","s":"E","v":32.5},{"m":"2016 M12","s":"E","v":34.1},
{"m":"2017 M01","s":"E","v":29.2},{"m":"2017 M02","s":"E","v":29.2},{"m":"2017 M03","s":"E","v":29.8},{"m":"2017 M04","s":"E","v":31.3},{"m":"2017 M05","s":"E","v":30},{"m":"2017 M06","s":"E","v":28.9},{"m":"2017 M07","s":"E","v":27.6},{"m":"2017 M08","s":"E","v":27.5},{"m":"2017 M09","s":"E","v":28.3},{"m":"2017 M10","s":"E","v":29.2},{"m":"2017 M11","s":"E","v":28.1},{"m":"2017 M12","s":"E","v":28.6},
{"m":"2018 M01","s":"E","v":19.8},{"m":"2018 M02","s":"E","v":20.9},{"m":"2018 M03","s":"E","v":20.8},{"m":"2018 M04","s":"E","v":19.7},{"m":"2018 M05","s":"E","v":18.4},{"m":"2018 M06","s":"E","v":19.1},{"m":"2018 M07","s":"E","v":17.8},{"m":"2018 M08","s":"E","v":18.3},{"m":"2018 M09","s":"E","v":18.8},{"m":"2018 M10","s":"E","v":18.1},{"m":"2018 M11","s":"E","v":18.8},{"m":"2018 M12","s":"E","v":19.8},
{"m":"2019 M01","s":"E","v":17.2},{"m":"2019 M02","s":"E","v":18.7},{"m":"2019 M03","s":"E","v":18.1},{"m":"2019 M04","s":"E","v":19.1},{"m":"2019 M05","s":"E","v":20},{"m":"2019 M06","s":"E","v":20.6},{"m":"2019 M07","s":"E","v":20.3},{"m":"2019 M08","s":"E","v":23.3},{"m":"2019 M09","s":"E","v":19.3},{"m":"2019 M10","s":"E","v":20.6},{"m":"2019 M11","s":"E","v":21.3},{"m":"2019 M12","s":"E","v":22.5},
{"m":"2020 M01","s":"E","v":24.4},{"m":"2020 M02","s":"E","v":24.6},{"m":"2020 M03","s":"E","v":26.7},{"m":"2020 M04","s":"E","v":39.7},{"m":"2020 M05","s":"E","v":41.3},{"m":"2020 M06","s":"E","v":42.2},{"m":"2020 M07","s":"E","v":39.5},{"m":"2020 M08","s":"E","v":44.3},{"m":"2020 M09","s":"E","v":40.5},{"m":"2020 M10","s":"E","v":40.3},{"m":"2020 M11","s":"E","v":34.7},{"m":"2020 M12","s":"E","v":37.2},
{"m":"2021 M01","s":"E","v":32.3},{"m":"2021 M02","s":"E","v":33.3},{"m":"2021 M03","s":"E","v":34.5},{"m":"2021 M04","s":"E","v":28.9},{"m":"2021 M05","s":"E","v":29.2},{"m":"2021 M06","s":"E","v":27.8},{"m":"2021 M07","s":"E","v":28.6},{"m":"2021 M08","s":"E","v":30.1},{"m":"2021 M09","s":"E","v":27.2},{"m":"2021 M10","s":"E","v":25.8},{"m":"2021 M11","s":"E","v":25.1},{"m":"2021 M12","s":"E","v":24.7},
{"m":"2022 M01","s":"E","v":24.4},{"m":"2022 M02","s":"E","v":25.8},{"m":"2022 M03","s":"E","v":26.6},{"m":"2022 M04","s":"E","v":25.3},{"m":"2022 M05","s":"E","v":25.1},{"m":"2022 M06","s":"E","v":22.4},{"m":"2022 M07","s":"E","v":23.1},{"m":"2022 M08","s":"E","v":25},{"m":"2022 M09","s":"E","v":22.8},{"m":"2022 M10","s":"E","v":22.4},{"m":"2022 M11","s":"E","v":24.5},{"m":"2022 M12","s":"E","v":24.5},
{"m":"2023 M01","s":"E","v":24.7},{"m":"2023 M02","s":"E","v":25.9},{"m":"2023 M03","s":"E","v":25.9},{"m":"2023 M04","s":"E","v":27.1},{"m":"2023 M05","s":"E","v":27.2},{"m":"2023 M06","s":"E","v":28.4},{"m":"2023 M07","s":"E","v":28.9},{"m":"2023 M08","s":"E","v":27.5},{"m":"2023 M09","s":"E","v":29.1},{"m":"2023 M10","s":"E","v":30},{"m":"2023 M11","s":"E","v":30.3},{"m":"2023 M12","s":"E","v":28.7},
{"m":"2024 M01","s":"E","v":27.3},{"m":"2024 M02","s":"E","v":30.9},{"m":"2024 M03","s":"E","v":33.4},{"m":"2024 M04","s":"E","v":33.1},{"m":"2024 M05","s":"E","v":30.3},{"m":"2024 M06","s":"E","v":31.6},{"m":"2024 M07","s":"E","v":29.4},{"m":"2024 M08","s":"E","v":30.9},{"m":"2024 M09","s":"E","v":29.1},{"m":"2024 M10","s":"E","v":29.5},{"m":"2024 M11","s":"E","v":32},{"m":"2024 M12","s":"E","v":31.1},
{"m":"2025 M01","s":"E","v":29.1},{"m":"2025 M02","s":"E","v":30.3},{"m":"2025 M03","s":"E","v":33.4},{"m":"2025 M04","s":"E","v":35.3},{"m":"2025 M05","s":"E","v":34.4},{"m":"2025 M06","s":"E","v":31.9},{"m":"2025 M07","s":"E","v":28.8},{"m":"2025 M08","s":"E","v":30.3},{"m":"2025 M09","s":"E","v":32.2},{"m":"2025 M10","s":"E","v":31.4},{"m":"2025 M11","s":"E","v":29.7},{"m":"2025 M12","s":"E","v":30.9},
{"m":"2010 M12","s":"F","v":13.4},
{"m":"2011 M01","s":"F","v":13.9},{"m":"2011 M02","s":"F","v":15.5},{"m":"2011 M03","s":"F","v":14.2},{"m":"2011 M04","s":"F","v":14.7},{"m":"2011 M05","s":"F","v":15.4},{"m":"2011 M06","s":"F","v":13.6},{"m":"2011 M07","s":"F","v":14.7},{"m":"2011 M08","s":"F","v":14.6},{"m":"2011 M09","s":"F","v":15.2},{"m":"2011 M10","s":"F","v":14.9},{"m":"2011 M11","s":"F","v":15.9},{"m":"2011 M12","s":"F","v":15.9},
{"m":"2012 M01","s":"F","v":12.8},{"m":"2012 M02","s":"F","v":14.6},{"m":"2012 M03","s":"F","v":15.3},{"m":"2012 M04","s":"F","v":12.7},{"m":"2012 M05","s":"F","v":12.7},{"m":"2012 M06","s":"F","v":12.1},{"m":"2012 M07","s":"F","v":13.4},{"m":"2012 M08","s":"F","v":11.9},{"m":"2012 M09","s":"F","v":11.4},{"m":"2012 M10","s":"F","v":11.5},{"m":"2012 M11","s":"F","v":12.3},{"m":"2012 M12","s":"F","v":11.9},
{"m":"2013 M01","s":"F","v":11.3},{"m":"2013 M02","s":"F","v":12.5},{"m":"2013 M03","s":"F","v":12.8},{"m":"2013 M04","s":"F","v":11.9},{"m":"2013 M05","s":"F","v":13.3},{"m":"2013 M06","s":"F","v":12.6},{"m":"2013 M07","s":"F","v":11.3},{"m":"2013 M08","s":"F","v":14.1},{"m":"2013 M09","s":"F","v":14.3},{"m":"2013 M10","s":"F","v":14.2},{"m":"2013 M11","s":"F","v":13.4},{"m":"2013 M12","s":"F","v":14.9},
{"m":"2014 M01","s":"F","v":14.4},{"m":"2014 M02","s":"F","v":13},{"m":"2014 M03","s":"F","v":13.9},{"m":"2014 M04","s":"F","v":14.4},{"m":"2014 M05","s":"F","v":14.8},{"m":"2014 M06","s":"F","v":15.3},{"m":"2014 M07","s":"F","v":16},{"m":"2014 M08","s":"F","v":15.8},{"m":"2014 M09","s":"F","v":16.7},{"m":"2014 M10","s":"F","v":15.8},{"m":"2014 M11","s":"F","v":15.9},{"m":"2014 M12","s":"F","v":17.5},
{"m":"2015 M01","s":"F","v":16.6},{"m":"2015 M02","s":"F","v":16.6},{"m":"2015 M03","s":"F","v":15.3},{"m":"2015 M04","s":"F","v":17.6},{"m":"2015 M05","s":"F","v":15.8},{"m":"2015 M06","s":"F","v":18.9},{"m":"2015 M07","s":"F","v":19.8},{"m":"2015 M08","s":"F","v":19.8},{"m":"2015 M09","s":"F","v":18.3},{"m":"2015 M10","s":"F","v":21.6},{"m":"2015 M11","s":"F","v":21.1},{"m":"2015 M12","s":"F","v":20.4},
{"m":"2016 M01","s":"F","v":21.6},{"m":"2016 M02","s":"F","v":21.3},{"m":"2016 M03","s":"F","v":23.3},{"m":"2016 M04","s":"F","v":22.4},{"m":"2016 M05","s":"F","v":23.4},{"m":"2016 M06","s":"F","v":23.5},{"m":"2016 M07","s":"F","v":22.8},{"m":"2016 M08","s":"F","v":23.9},{"m":"2016 M09","s":"F","v":26.1},{"m":"2016 M10","s":"F","v":25.3},{"m":"2016 M11","s":"F","v":24.5},{"m":"2016 M12","s":"F","v":25.3},
{"m":"2017 M01","s":"F","v":30.8},{"m":"2017 M02","s":"F","v":31.1},{"m":"2017 M03","s":"F","v":30.8},{"m":"2017 M04","s":"F","v":29.4},{"m":"2017 M05","s":"F","v":32.5},{"m":"2017 M06","s":"F","v":32.5},{"m":"2017 M07","s":"F","v":32.5},{"m":"2017 M08","s":"F","v":33.9},{"m":"2017 M09","s":"F","v":34.4},{"m":"2017 M10","s":"F","v":34.4},{"m":"2017 M11","s":"F","v":33.6},{"m":"2017 M12","s":"F","v":35},
{"m":"2018 M01","s":"F","v":47.2},{"m":"2018 M02","s":"F","v":44.4},{"m":"2018 M03","s":"F","v":43.1},{"m":"2018 M04","s":"F","v":43.5},{"m":"2018 M05","s":"F","v":44.1},{"m":"2018 M06","s":"F","v":44.5},{"m":"2018 M07","s":"F","v":44.8},{"m":"2018 M08","s":"F","v":45},{"m":"2018 M09","s":"F","v":45.8},{"m":"2018 M10","s":"F","v":46.4},{"m":"2018 M11","s":"F","v":46.8},{"m":"2018 M12","s":"F","v":45},
{"m":"2019 M01","s":"F","v":43.4},{"m":"2019 M02","s":"F","v":42.3},{"m":"2019 M03","s":"F","v":41.8},{"m":"2019 M04","s":"F","v":43.4},{"m":"2019 M05","s":"F","v":41.1},{"m":"2019 M06","s":"F","v":41.6},{"m":"2019 M07","s":"F","v":42.5},{"m":"2019 M08","s":"F","v":43.3},{"m":"2019 M09","s":"F","v":41.1},{"m":"2019 M10","s":"F","v":41.4},{"m":"2019 M11","s":"F","v":42.4},{"m":"2019 M12","s":"F","v":39.2},
{"m":"2020 M01","s":"F","v":41.3},{"m":"2020 M02","s":"F","v":41.7},{"m":"2020 M03","s":"F","v":41.3},{"m":"2020 M04","s":"F","v":23.4},{"m":"2020 M05","s":"F","v":21.3},{"m":"2020 M06","s":"F","v":20.9},{"m":"2020 M07","s":"F","v":20.6},{"m":"2020 M08","s":"F","v":23.4},{"m":"2020 M09","s":"F","v":26.1},{"m":"2020 M10","s":"F","v":24.7},{"m":"2020 M11","s":"F","v":26.4},{"m":"2020 M12","s":"F","v":25.9},
{"m":"2021 M01","s":"F","v":28.3},{"m":"2021 M02","s":"F","v":28.1},{"m":"2021 M03","s":"F","v":28.1},{"m":"2021 M04","s":"F","v":27.9},{"m":"2021 M05","s":"F","v":27.5},{"m":"2021 M06","s":"F","v":33.4},{"m":"2021 M07","s":"F","v":32.8},{"m":"2021 M08","s":"F","v":34.6},{"m":"2021 M09","s":"F","v":37},{"m":"2021 M10","s":"F","v":39.7},{"m":"2021 M11","s":"F","v":37.7},{"m":"2021 M12","s":"F","v":38},
{"m":"2022 M01","s":"F","v":39.2},{"m":"2022 M02","s":"F","v":36.7},{"m":"2022 M03","s":"F","v":36.3},{"m":"2022 M04","s":"F","v":37},{"m":"2022 M05","s":"F","v":37.5},{"m":"2022 M06","s":"F","v":39.8},{"m":"2022 M07","s":"F","v":42.5},{"m":"2022 M08","s":"F","v":41.1},{"m":"2022 M09","s":"F","v":40.1},{"m":"2022 M10","s":"F","v":40.8},{"m":"2022 M11","s":"F","v":38.1},{"m":"2022 M12","s":"F","v":38.9},
{"m":"2023 M01","s":"F","v":36.3},{"m":"2023 M02","s":"F","v":33.6},{"m":"2023 M03","s":"F","v":32.9},{"m":"2023 M04","s":"F","v":34.6},{"m":"2023 M05","s":"F","v":34.9},{"m":"2023 M06","s":"F","v":35.6},{"m":"2023 M07","s":"F","v":34.1},{"m":"2023 M08","s":"F","v":37.6},{"m":"2023 M09","s":"F","v":37.7},{"m":"2023 M10","s":"F","v":38.1},{"m":"2023 M11","s":"F","v":37},{"m":"2023 M12","s":"F","v":35.6},
{"m":"2024 M01","s":"F","v":33.4},{"m":"2024 M02","s":"F","v":31.4},{"m":"2024 M03","s":"F","v":31.6},{"m":"2024 M04","s":"F","v":29.2},{"m":"2024 M05","s":"F","v":30.6},{"m":"2024 M06","s":"F","v":32.8},{"m":"2024 M07","s":"F","v":32},{"m":"2024 M08","s":"F","v":31.8},{"m":"2024 M09","s":"F","v":33.9},{"m":"2024 M10","s":"F","v":31.9},{"m":"2024 M11","s":"F","v":31.9},{"m":"2024 M12","s":"F","v":34.5},
{"m":"2025 M01","s":"F","v":29.7},{"m":"2025 M02","s":"F","v":28.6},{"m":"2025 M03","s":"F","v":27.7},{"m":"2025 M04","s":"F","v":29.1},{"m":"2025 M05","s":"F","v":29.6},{"m":"2025 M06","s":"F","v":28.1},{"m":"2025 M07","s":"F","v":29.7},{"m":"2025 M08","s":"F","v":31.6},{"m":"2025 M09","s":"F","v":30},{"m":"2025 M10","s":"F","v":30.5},{"m":"2025 M11","s":"F","v":28.8},{"m":"2025 M12","s":"F","v":26.3}
],
"etykiety":[
{"t":"63,1","m":"2019 M11","v":70.1,"s":"A"},
{"t":"47,9","m":"2019 M10","v":47.6,"s":"A"},
{"t":"68,7","m":"2025 M05","v":78,"s":"A"},
{"t":"64,5","m":"2025 M12","v":73.7,"s":"A"},
{"t":"40,8","m":"2018 M04","v":48.2,"s":"B"},
{"t":"38,4","m":"2021 M01","v":48.9,"s":"B"},
{"t":"48,1","m":"2022 M07","v":56.8,"s":"B"},
{"t":"47,6","m":"2025 M11","v":55.5,"s":"B"},
{"t":"34,1","m":"2016 M12","v":13.3,"s":"E"},
{"t":"18,7","m":"2018 M11","v":7.9,"s":"E"},
{"t":"44,3","m":"2020 M12","v":14.6,"s":"E"},
{"t":"22,8","m":"2022 M10","v":11.8,"s":"E"},
{"t":"30,9","m":"2025 M12","v":34.3,"s":"E"}
],
"linie":[
{"id":1,"o":0,"m":"2019 M11","v":66.2},{"id":1,"o":1,"m":"2020 M03","v":63.2},
{"id":2,"o":0,"m":"2020 M01","v":47.9},{"id":2,"o":1,"m":"2020 M05","v":47.9},
{"id":3,"o":0,"m":"2018 M04","v":45.5},{"id":3,"o":1,"m":"2018 M07","v":42.2},
{"id":4,"o":0,"m":"2020 M09","v":49.1},{"id":4,"o":1,"m":"2020 M08","v":49.1},{"id":4,"o":2,"m":"2020 M05","v":38.4},
{"id":5,"o":0,"m":"2020 M12","v":20},{"id":5,"o":1,"m":"2020 M08","v":44.3},
{"id":6,"o":0,"m":"2016 M12","v":18.2},{"id":6,"o":1,"m":"2016 M12","v":34.1},
{"id":7,"o":0,"m":"2018 M11","v":12.75},{"id":7,"o":1,"m":"2019 M02","v":18.7},
{"id":8,"o":0,"m":"2022 M10","v":16.3},{"id":8,"o":1,"m":"2022 M09","v":22.8},
{"id":9,"o":0,"m":"2022 M07","v":52.7},{"id":9,"o":1,"m":"2022 M10","v":48.2},
{"id":10,"o":0,"m":"2025 M04","v":73.9},{"id":10,"o":1,"m":"2025 M05","v":69},
{"id":11,"o":0,"m":"2025 M12","v":69.8},{"id":11,"o":1,"m":"2025 M12","v":64.7},
{"id":12,"o":0,"m":"2025 M11","v":51.2},{"id":12,"o":1,"m":"2025 M12","v":48.2}
]
},
"layer":[
{
"data":{"name":"dane"},
"transform":[{"lookup":"s","from":{"data":{"name":"serie"},"key":"s","fields":["nazwa"]}}],
"mark":{"type":"line","strokeWidth":4.5,"strokeJoin":"round","strokeCap":"round"},
"encoding":{
"x":{"field":"m","type":"ordinal","sort":"ascending","scale":{"type":"point","padding":0.5},
"axis":{"title":null,"labelAngle":-90,"labelFont":"Liberation Sans","labelFontSize":28,"labelColor":"#000000","labelPadding":20,"domain":false,"ticks":false,"grid":false,"labelOverlap":false,
"values":["2010 M12","2011 M04","2011 M08","2011 M12","2012 M04","2012 M08","2012 M12","2013 M04","2013 M08","2013 M12","2014 M04","2014 M08","2014 M12","2015 M04","2015 M08","2015 M12","2016 M04","2016 M08","2016 M12","2017 M04","2017 M08","2017 M12","2018 M04","2018 M08","2018 M12","2019 M04","2019 M08","2019 M12","2020 M04","2020 M08","2020 M12","2021 M04","2021 M08","2021 M12","2022 M04","2022 M08","2022 M12","2023 M04","2023 M08","2023 M12","2024 M04","2024 M08","2024 M12","2025 M04","2025 M08","2025 M12"]}},
"y":{"field":"v","type":"quantitative","scale":{"domain":[0,80],"nice":false},
"axis":{"title":null,"values":[0,10,20,30,40,50,60,70,80],"grid":true,"gridColor":"#E3E3E3","gridWidth":2,"domain":false,"ticks":false,"labelFont":"Lato","labelFontSize":27,"labelColor":"#000000","labelPadding":30}},
"color":{"field":"nazwa","type":"nominal",
"scale":{"domain":["koszty zatrudnienia","wysokie obciążenia na rzecz budżetu","niepewność ogólnej sytuacji gospodarczej","niejasne, niespójne i niestabilne przepisy prawne","niedostateczny popyt","niedobór wykwalifikowanych pracowników"],
"range":["#B3192B","#D57B6F","#5F6467","#A7A9AC","#10759A","#F7A800"]},
"legend":{"orient":"none","legendX":335,"legendY":593,"direction":"horizontal","columns":2,"title":null,"symbolType":"stroke","symbolSize":3136,"symbolStrokeWidth":5,"labelFont":"Lato","labelFontSize":30,"labelColor":"#000000","labelLimit":1000,"columnPadding":78,"rowPadding":7,"labelOffset":4}}
}
},
{
"data":{"name":"linie"},
"mark":{"type":"line","stroke":"#BFBFBF","strokeWidth":1.5},
"encoding":{
"x":{"field":"m","type":"ordinal"},
"y":{"field":"v","type":"quantitative"},
"detail":{"field":"id","type":"nominal"},
"order":{"field":"o","type":"quantitative"}
}
},
{
"data":{"name":"etykiety"},
"mark":{"type":"text","font":"Lato","fontSize":27},
"encoding":{
"x":{"field":"m","type":"ordinal"},
"y":{"field":"v","type":"quantitative"},
"text":{"field":"t"},
"color":{"field":"s","type":"nominal","scale":{"domain":["A","B","E"],"range":["#C00000","#D57B6F","#12718D"]},"legend":null}
}
}
],
"resolve":{"scale":{"color":"independent"}}
}
